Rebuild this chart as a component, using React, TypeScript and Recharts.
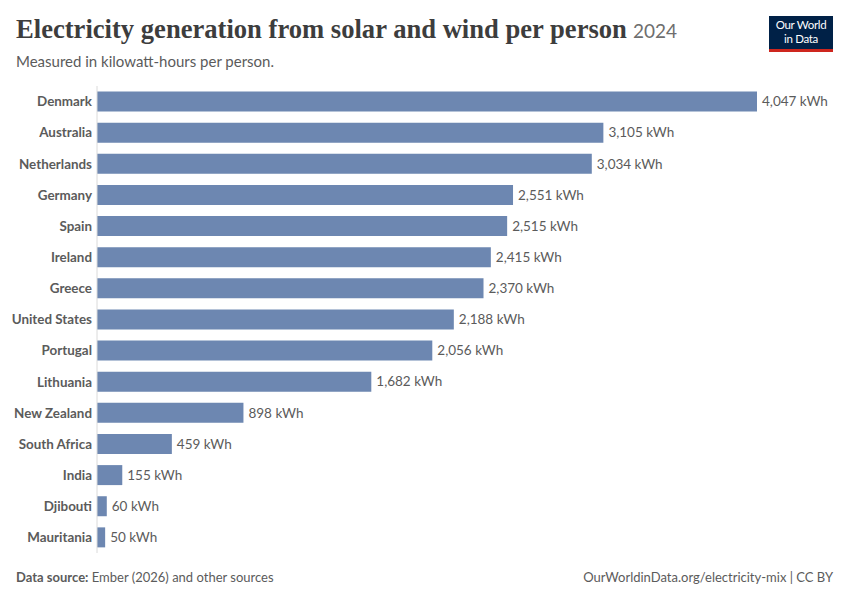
import { BarChart, Bar, XAxis, YAxis, LabelList } from 'recharts';

const countries = [
  'Denmark', 'Australia', 'Netherlands', 'Germany', 'Spain', 'Ireland', 'Greece',
  'United States', 'Portugal', 'Lithuania', 'New Zealand', 'South Africa', 'India',
  'Djibouti', 'Mauritania',
];
const kwhPerPerson = [4047, 3105, 3034, 2551, 2515, 2415, 2370, 2188, 2056, 1682, 898, 459, 155, 60, 50];

const data = countries.map((country, i) => ({ country, value: kwhPerPerson[i] }));

const SANS = 'Lato, "Noto Sans", sans-serif';
const GREY = '#5b5b5b';

const App = () => {
  return (
    <div style={{ position: 'absolute', left: 0, top: 0, width: 850, height: 600, background: '#fff', fontFamily: SANS }}>
      <div style={{ position: 'absolute', left: 16, top: 14, whiteSpace: 'nowrap' }}>
        <span style={{ fontFamily: '"Liberation Serif", serif', fontWeight: 700, fontSize: 26.6, color: '#3d3d3d' }}>
          Electricity generation from solar and wind per person
        </span>
        <span style={{ fontFamily: SANS, fontSize: 19, color: '#6e6e6e', marginLeft: 6 }}>2024</span>
      </div>
      <div style={{ position: 'absolute', left: 16, top: 52, fontSize: 15, color: GREY }}>
        Measured in kilowatt-hours per person.
      </div>

      {/* logo */}
      <div style={{
        position: 'absolute', left: 769, top: 16, width: 64, height: 31, background: '#002147',
        borderBottom: '3px solid #ce261e', color: '#fff', fontSize: 11.5, lineHeight: '14px',
        textAlign: 'center', paddingTop: 2, boxSizing: 'content-box', letterSpacing: -0.3,
      }}>
        <div>Our World</div>
        <div>in Data</div>
      </div>

      <div style={{ position: 'absolute', left: 0, top: 0 }}>
        <BarChart
          width={850}
          height={600}
          data={data}
          layout="vertical"
          margin={{ top: 86, right: 93, bottom: 47, left: 0 }}
          barCategoryGap={5.5}
        >
          <XAxis type="number" hide domain={[0, 4047]} />
          <YAxis
            type="category"
            dataKey="country"
            width={97}
            tickLine={false}
            axisLine={{ stroke: '#dadada' }}
            tick={{ fill: GREY, fontSize: 13.4, fontWeight: 700, fontFamily: SANS, dx: 3 }}
          />
          <Bar dataKey="value" fill="#6d87b1" isAnimationActive={false}>
            <LabelList
              dataKey="value"
              position="right"
              offset={5}
              formatter={(v: number) => `${v.toLocaleString('en-US')} kWh`}
              style={{ fill: GREY, fontSize: 13.5, fontFamily: SANS }}
            />
          </Bar>
        </BarChart>
      </div>

      <div style={{ position: 'absolute', left: 16, top: 569, fontSize: 13, color: GREY }}>
        <b>Data source:</b> Ember (2026) and other sources
      </div>
      <div style={{ position: 'absolute', right: 17, top: 569, fontSize: 13, color: GREY }}>
        OurWorldinData.org/electricity-mix | CC BY
      </div>
    </div>
  );
};

export default App;
